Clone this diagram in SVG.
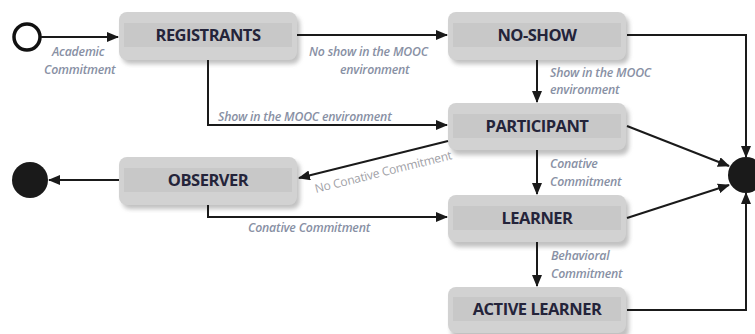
<svg xmlns="http://www.w3.org/2000/svg" width="755" height="334" viewBox="0 0 755 334">
<style>
.box{fill:#d2d2d2;}
.band{fill:#c8c8c8;}
.shadow{fill:#8f8f8f;opacity:0.55;}
.nt{font-family:"Open Sans","Liberation Sans",sans-serif;font-weight:bold;font-size:16.5px;fill:#24243a;text-anchor:middle;letter-spacing:-0.5px;}
.lbl{font-family:"Open Sans","Liberation Sans",sans-serif;font-style:italic;font-weight:600;font-size:12.3px;fill:#8890a4;letter-spacing:-0.2px;}
.c{fill:none;stroke:#1a1a1a;stroke-width:2;}
</style>
<defs>
<marker id="ah" viewBox="0 0 12 10" refX="11" refY="5" markerWidth="12" markerHeight="10" markerUnits="userSpaceOnUse" orient="auto">
<path d="M0,0 L12,5 L0,10 z" fill="#1a1a1a"/>
</marker>
<filter id="blur" x="-10%" y="-20%" width="120%" height="150%"><feGaussianBlur stdDeviation="2"/></filter>
</defs>
<rect width="755" height="334" fill="#ffffff"/>

<g id="start"><circle cx="27" cy="37" r="13" fill="#ffffff" stroke="#111" stroke-width="3.5"/></g>
<g id="end-left"><circle cx="30" cy="180" r="18" fill="#1a1a1a"/></g>
<g id="end-right"><circle cx="746" cy="175" r="18" fill="#1a1a1a"/></g>

<g id="registrants">
<rect class="shadow" x="122" y="16" width="178" height="48" rx="8" filter="url(#blur)"/>
<rect class="box" x="119" y="12" width="178" height="48" rx="8"/>
<rect class="band" x="124" y="23" width="168" height="24"/>
<text class="nt" x="208" y="41">REGISTRANTS</text>
</g>
<g id="no-show">
<rect class="shadow" x="451" y="16" width="178" height="48" rx="8" filter="url(#blur)"/>
<rect class="box" x="448" y="12" width="178" height="48" rx="8"/>
<rect class="band" x="453" y="23" width="168" height="24"/>
<text class="nt" x="537" y="41">NO-SHOW</text>
</g>
<g id="participant">
<rect class="shadow" x="451" y="107" width="178" height="48" rx="8" filter="url(#blur)"/>
<rect class="box" x="448" y="103" width="178" height="47" rx="8"/>
<rect class="band" x="453" y="114" width="168" height="24"/>
<text class="nt" x="537" y="132">PARTICIPANT</text>
</g>
<g id="observer">
<rect class="shadow" x="122" y="161" width="178" height="48" rx="8" filter="url(#blur)"/>
<rect class="box" x="119" y="157" width="178" height="48" rx="8"/>
<rect class="band" x="124" y="168" width="168" height="24"/>
<text class="nt" x="208" y="186">OBSERVER</text>
</g>
<g id="learner">
<rect class="shadow" x="451" y="199" width="178" height="48" rx="8" filter="url(#blur)"/>
<rect class="box" x="448" y="195" width="178" height="47" rx="8"/>
<rect class="band" x="453" y="206" width="168" height="24"/>
<text class="nt" x="537" y="224">LEARNER</text>
</g>
<g id="active-learner">
<rect class="shadow" x="451" y="291" width="178" height="48" rx="8" filter="url(#blur)"/>
<rect class="box" x="448" y="287" width="178" height="46" rx="8"/>
<rect class="band" x="453" y="297" width="168" height="24"/>
<text class="nt" x="537" y="315">ACTIVE LEARNER</text>
</g>

<g id="connectors">
<line class="c" x1="41" y1="37" x2="118" y2="37" marker-end="url(#ah)"/>
<line class="c" x1="297" y1="35" x2="447" y2="35" marker-end="url(#ah)"/>
<polyline class="c" points="208,60 208,125 447,125" marker-end="url(#ah)"/>
<line class="c" x1="537" y1="60" x2="537" y2="102" marker-end="url(#ah)"/>
<polyline class="c" points="627,35 746,35 746,157" marker-end="url(#ah)"/>
<line class="c" x1="627" y1="126" x2="729" y2="166" marker-end="url(#ah)"/>
<line class="c" x1="448" y1="141" x2="299" y2="178" marker-end="url(#ah)"/>
<line class="c" x1="119" y1="180" x2="49" y2="180" marker-end="url(#ah)"/>
<line class="c" x1="537" y1="150" x2="537" y2="194" marker-end="url(#ah)"/>
<polyline class="c" points="208,205 208,217 447,217" marker-end="url(#ah)"/>
<line class="c" x1="627" y1="218" x2="729" y2="185" marker-end="url(#ah)"/>
<line class="c" x1="537" y1="242" x2="537" y2="286" marker-end="url(#ah)"/>
<polyline class="c" points="627,310 746,310 746,193" marker-end="url(#ah)"/>
</g>

<g id="labels">
<text class="lbl" x="52" y="56">Academic</text>
<text class="lbl" x="44" y="74">Commitment</text>
<text class="lbl" x="309" y="56">No show in the MOOC</text>
<text class="lbl" x="340" y="74">environment</text>
<text class="lbl" x="218" y="121">Show in the MOOC environment</text>
<text class="lbl" x="550" y="77">Show in the MOOC</text>
<text class="lbl" x="550" y="94">environment</text>
<text class="lbl" x="316" y="193" transform="rotate(-14 316 193)" style="fill:#a0a0a6;font-weight:normal;font-style:normal;font-size:12px">No Conative Commitment</text>
<text class="lbl" x="550" y="168">Conative</text>
<text class="lbl" x="550" y="186">Commitment</text>
<text class="lbl" x="248" y="232">Conative Commitment</text>
<text class="lbl" x="551" y="260">Behavioral</text>
<text class="lbl" x="551" y="278">Commitment</text>
</g>
</svg>
